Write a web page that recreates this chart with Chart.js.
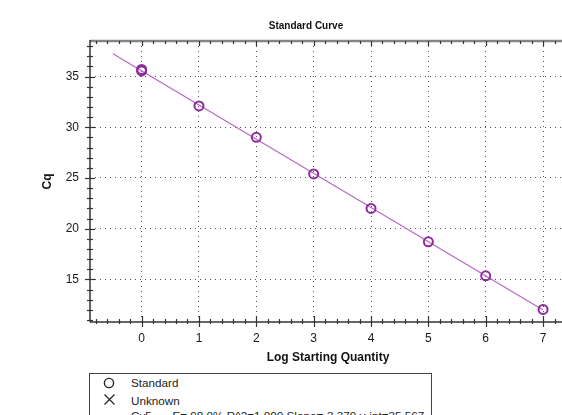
<!DOCTYPE html>
<html>
<head>
<meta charset="utf-8">
<script src="https://cdn.jsdelivr.net/npm/chart.js@4.4.0/dist/chart.umd.min.js"></script>
<style>
html, body { margin: 0; padding: 0; background: #fff; overflow: hidden; width: 562px; height: 415px; }
#wrap { position: absolute; left: 0; top: 0; width: 612px; height: 372px; }
#legend { position: absolute; left: 89px; top: 373px; width: 343px; height: 70px; box-sizing: border-box;
  border: 1px solid #444; background: #fff; font: 11.7px "Liberation Sans", Arial, sans-serif; color: #222; }
#legend .txt { position: absolute; line-height: 14px; white-space: nowrap; }
#legend svg { position: absolute; }
</style>
</head>
<body>
<div id="wrap"><canvas id="curve" width="612" height="372"></canvas></div>
<div id="legend">
  <svg style="left:13px;top:3px" width="12" height="12"><circle cx="6" cy="6" r="4.6" fill="none" stroke="#222" stroke-width="1.4"/></svg>
  <div class="txt" style="left:41px;top:2px">Standard</div>
  <svg style="left:13px;top:19px" width="13" height="13"><path d="M1.5 1.5 L11.5 11.5 M11.5 1.5 L1.5 11.5" stroke="#222" stroke-width="1.2"/></svg>
  <div class="txt" style="left:41px;top:19.5px">Unknown</div>
  <div class="txt" style="left:41px;top:35px">Cy5</div>
  <div class="txt" style="left:82.5px;top:35px">E= 98.0% R^2=1.000 Slope=-3.370 y-int=35.567</div>
</div>
<script>
// standards (two replicates sit on top of each other at 0)
var logQty = [0, 0, 1, 2, 3, 4, 5, 6, 7];
var cqValues = [35.55, 35.7, 32.1, 29.0, 25.4, 22.0, 18.7, 15.35, 12.04];

// regression line end points
var fitX = [-0.5, 7];
var fitCq = [37.25, 11.98];

var xTicks = [0, 1, 2, 3, 4, 5, 6, 7];
var yTicks = [15, 20, 25, 30, 35];

Chart.defaults.font.family = '"Liberation Sans", Arial, sans-serif';

function line(ctx, x1, y1, x2, y2) {
    ctx.beginPath();
    ctx.moveTo(x1, y1);
    ctx.lineTo(x2, y2);
    ctx.stroke();
}

// axis frame with ticks crossing the axis line, like the instrument software draws it
var axisFrame = {
    id: 'axisFrame',
    afterDraw: function(chart) {
        var ctx = chart.ctx, a = chart.chartArea;
        var xs = chart.scales.x, ys = chart.scales.y;
        var k, px, major;
        ctx.save();

        ctx.strokeStyle = '#858585';
        ctx.lineWidth = 2.5;
        line(ctx, a.left, a.top, a.right, a.top);

        ctx.strokeStyle = '#333';
        ctx.lineWidth = 1.5;
        line(ctx, a.left, a.top - 1, a.left, a.bottom);
        line(ctx, a.left, a.bottom, a.right, a.bottom);

        ctx.lineWidth = 1.2;
        for (k = -4; k <= 37; k++) {
            px = Math.round(xs.getPixelForValue(k / 5)) + 0.5;
            if (px <= a.left + 1 || px >= a.right) continue;
            major = (k % 5 === 0);
            line(ctx, px, a.bottom - (major ? 6 : 3), px, a.bottom + (major ? 5 : 2));
            line(ctx, px, a.top, px, a.top + (major ? 5 : 3));
        }
        for (k = 11; k <= 38; k++) {
            px = Math.round(ys.getPixelForValue(k)) + 0.5;
            major = (k % 5 === 0);
            line(ctx, a.left - (major ? 5 : 3), px, a.left + (major ? 5 : 3), px);
        }
        ctx.restore();
    }
};

var curve = new Chart(document.getElementById('curve'), {
    type: 'scatter',
    data: {
        datasets: [{
            label: 'Standard',
            data: logQty.map(function(x, i) { return {x: x, y: cqValues[i]}; }),
            showLine: false,
            pointStyle: 'circle',
            pointRadius: 4.5,
            pointBorderWidth: 2,
            pointBorderColor: '#8e2a9c',
            pointBackgroundColor: 'rgba(0,0,0,0)',
            order: 1
        }, {
            label: 'Cy5',
            data: fitX.map(function(x, i) { return {x: x, y: fitCq[i]}; }),
            showLine: true,
            borderColor: '#b966c6',
            borderWidth: 1.2,
            pointRadius: 0,
            order: 2
        }]
    },
    plugins: [axisFrame],
    options: {
        responsive: false,
        animation: false,
        devicePixelRatio: 1,
        layout: { padding: 0 },
        plugins: {
            legend: { display: false },
            tooltip: { enabled: false },
            title: {
                display: true,
                text: 'Standard Curve',
                color: '#111',
                font: { size: 10, weight: 'bold' },
                padding: { top: 20, bottom: 9 }
            }
        },
        scales: {
            x: {
                type: 'linear',
                position: 'bottom',
                min: -0.9,
                max: 7.4,
                afterBuildTicks: function(s) { s.ticks = xTicks.map(function(v) { return {value: v}; }); },
                afterFit: function(s) { s.height = 50; },
                ticks: { color: '#1a1a1a', font: { size: 12 }, padding: 9, maxRotation: 0, autoSkip: false },
                grid: { color: '#555', lineWidth: 1, drawTicks: false },
                border: { display: false, dash: [1, 4] },
                title: {
                    display: true,
                    text: 'Log Starting Quantity',
                    color: '#111',
                    font: { size: 12, weight: 'bold' },
                    padding: { top: 0, bottom: 7 }
                }
            },
            y: {
                type: 'linear',
                min: 10.8,
                max: 38.5,
                afterBuildTicks: function(s) { s.ticks = yTicks.map(function(v) { return {value: v}; }); },
                afterFit: function(s) { s.width = 90; },
                ticks: { color: '#1a1a1a', font: { size: 12 }, padding: 11 },
                grid: { color: '#555', lineWidth: 1, drawTicks: false },
                border: { display: false, dash: [1, 4] },
                title: {
                    display: true,
                    text: 'Cq',
                    color: '#111',
                    font: { size: 12, weight: 'bold' },
                    padding: { top: 40, bottom: 0 }
                }
            },
            // empty right-hand strip, the part of the original plot that is cut off
            yRight: {
                type: 'linear',
                position: 'right',
                display: true,
                ticks: { display: false },
                grid: { display: false, drawTicks: false },
                border: { display: false },
                afterFit: function(s) { s.width = 46; }
            }
        }
    }
});
</script>
</body>
</html>
